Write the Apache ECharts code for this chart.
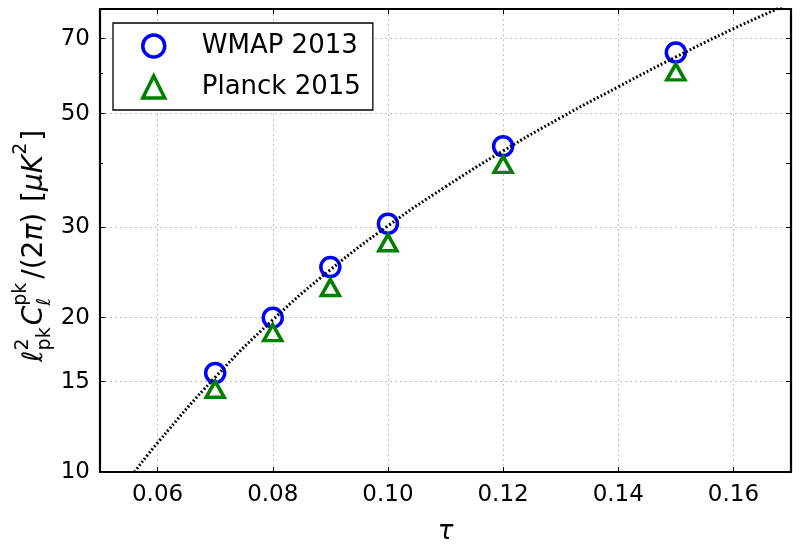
<!DOCTYPE html>
<html>
<head>
<meta charset="utf-8">
<script src="https://cdn.jsdelivr.net/npm/echarts@6/dist/echarts.min.js"></script>
<style>
  html, body { margin: 0; padding: 0; background: #fff; }
  #chart { width: 800px; height: 554px; }
</style>
</head>
<body>
<div id="chart"></div>
<script>
// data
var tau = [0.07, 0.08, 0.09, 0.10, 0.12, 0.15];
var wmap = [15.6, 20.0, 25.1, 30.5, 43.2, 65.8];
var planck = [14.5, 18.7, 22.9, 28.0, 39.8, 60.3];

// dotted curve
var fitTau = [0.056, 0.06, 0.07, 0.08, 0.09, 0.10, 0.11, 0.12, 0.13, 0.14, 0.15, 0.16, 0.17];
var fitVal = [10.0, 11.4, 15.3, 19.8, 24.8, 30.2, 36.0, 42.3, 49.1, 56.4, 64.5, 73.2, 82.3];

// ticks
var xTicks = [0.06, 0.08, 0.10, 0.12, 0.14, 0.16];
var yLabels = [10, 15, 20, 30, 50, 70];
var yMinor = [40, 60];

function pairs(xs, ys) {
    return xs.map(function (x, i) { return [x, ys[i]]; });
}

// y axis title, laid out piece by piece (sub/superscripts)
var ctx = document.createElement('canvas').getContext('2d');
function fontOf(p) {
    return (p.it ? 'italic ' : '') + p.s + 'px "DejaVu Sans"';
}
var titleParts = [
    {t: 'ℓ', s: 28, it: true, y: 6},
    {t: '2', s: 19, y: -10, stack: true},
    {t: 'pk', s: 19, y: 12},
    {t: 'C', s: 28, it: true, y: 6, gap: 2},
    {t: 'pk', s: 19, y: -12, stack: true},
    {t: 'ℓ', s: 19, it: true, y: 12},
    {t: '/(2', s: 28, y: 6, gap: 4},
    {t: 'π', s: 28, it: true, y: 6},
    {t: ')', s: 28, y: 6},
    {t: ' [', s: 28, y: 6, gap: 2},
    {t: 'μ', s: 28, it: true, y: 6},
    {t: 'K', s: 28, it: true, y: 6},
    {t: '2', s: 19, y: -12},
    {t: ']', s: 28, y: 6, gap: 2}
];
var titleChildren = [];
var cx = 0, stackW = 0;
titleParts.forEach(function (p) {
    cx += p.gap || 0;
    ctx.font = fontOf(p);
    var w = ctx.measureText(p.t).width;
    titleChildren.push({
        type: 'text', x: cx, y: p.y,
        style: {text: p.t, font: fontOf(p), fill: '#000', verticalAlign: 'bottom'}
    });
    if (p.stack) {
        stackW = w;
    } else {
        cx += Math.max(w, stackW);
        stackW = 0;
    }
});

var dom = document.getElementById('chart');
var myChart = echarts.init(dom);

var blueMark = {color: '#fff', borderColor: '#0000ff', borderWidth: 3.5, opacity: 1};
var greenMark = {color: '#fff', borderColor: '#008000', borderWidth: 3.5, opacity: 1};
var gridLine = {color: '#c2c2c2', type: [2, 3], width: 1};
var frame = {color: '#000', width: 2.2};

var option = {
    animation: false,
    backgroundColor: '#fff',
    textStyle: {fontFamily: 'DejaVu Sans'},
    grid: {left: 100, right: 9, top: 9, bottom: 82},
    legend: {
        orient: 'vertical',
        left: 113, top: 23,
        padding: [10, 12, 10, 28],
        itemGap: 15,
        itemWidth: 22, itemHeight: 22,
        borderColor: '#000', borderWidth: 1.3, borderRadius: 0,
        backgroundColor: '#fff',
        textStyle: {fontSize: 26, color: '#000', padding: [0, 0, 0, 32]},
        data: [
            {name: 'WMAP 2013', icon: 'circle', itemStyle: blueMark},
            {name: 'Planck 2015', icon: 'triangle', itemStyle: greenMark}
        ]
    },
    xAxis: [
        {
            type: 'value', min: 0.05, max: 0.17,
            name: 'τ', nameLocation: 'middle', nameGap: 47,
            nameTextStyle: {fontSize: 26, fontStyle: 'italic', color: '#000'},
            axisLine: {lineStyle: frame},
            axisTick: {inside: true, length: 5, customValues: xTicks, lineStyle: {color: '#000', width: 1}},
            axisLabel: {customValues: xTicks, fontSize: 23, color: '#000', margin: 12,
                formatter: function (v) { return v.toFixed(2); }},
            splitLine: {show: true, lineStyle: gridLine}
        },
        {
            type: 'value', min: 0.05, max: 0.17, position: 'top',
            axisLine: {lineStyle: frame},
            axisTick: {inside: true, length: 5, customValues: xTicks, lineStyle: {color: '#000', width: 1}},
            axisLabel: {show: false},
            splitLine: {show: false}
        }
    ],
    yAxis: [
        {
            type: 'log', min: 10, max: 80,
            axisLine: {lineStyle: frame},
            axisTick: {inside: true, length: 5, customValues: yLabels, lineStyle: {color: '#000', width: 1}},
            axisLabel: {customValues: yLabels, fontSize: 23, color: '#000', margin: 10},
            splitLine: {show: true, lineStyle: gridLine},
            minorTick: {show: false}
        },
        {
            type: 'log', min: 10, max: 80, position: 'left',
            axisLine: {show: false},
            axisTick: {inside: true, length: 3, customValues: yMinor, lineStyle: {color: '#000', width: 1}},
            axisLabel: {show: false},
            splitLine: {show: false}
        },
        {
            type: 'log', min: 10, max: 80, position: 'right',
            axisLine: {lineStyle: frame},
            axisTick: {inside: true, length: 5, customValues: yLabels.concat(yMinor), lineStyle: {color: '#000', width: 1}},
            axisLabel: {show: false},
            splitLine: {show: false}
        }
    ],
    graphic: [{
        type: 'group', x: 43, y: 362, rotation: Math.PI / 2,
        children: titleChildren
    }],
    series: [
        {
            name: 'WMAP 2013', type: 'scatter',
            symbol: 'circle', symbolSize: 19,
            itemStyle: blueMark,
            data: pairs(tau, wmap), z: 3
        },
        {
            name: 'Planck 2015', type: 'scatter',
            symbol: 'triangle', symbolSize: [18, 16],
            itemStyle: greenMark,
            data: pairs(tau, planck), z: 3
        },
        {
            name: 'fit', type: 'line', smooth: true, showSymbol: false,
            lineStyle: {color: '#000', width: 3, type: [1.8, 2.2]},
            data: pairs(fitTau, fitVal), z: 4
        }
    ]
};

if (option && typeof option === 'object') {
    myChart.setOption(option, true);
}
window.onresize = function () { myChart.resize(); };
</script>
</body>
</html>
